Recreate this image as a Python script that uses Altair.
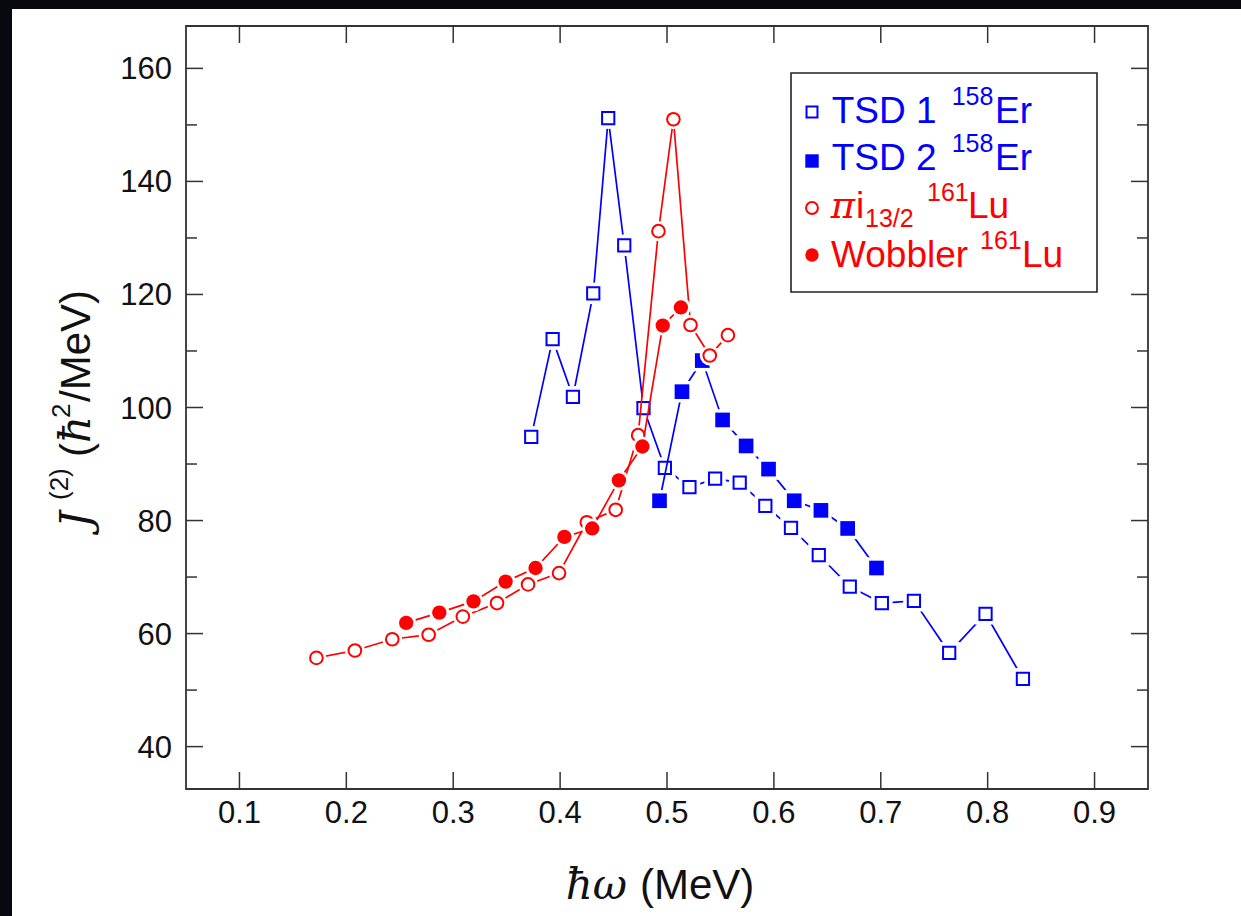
import altair as alt
import pandas as pd

# ---- data: dynamic moment of inertia J(2) vs rotational frequency ----
tsd1_w = [0.373, 0.393, 0.412, 0.431, 0.445, 0.460, 0.478, 0.498, 0.521, 0.545,
          0.568, 0.592, 0.616, 0.642, 0.671, 0.701, 0.731, 0.764, 0.798, 0.833]
tsd1_j = [94.8, 112.1, 101.9, 120.2, 151.2, 128.7, 99.9, 89.3, 85.9, 87.4,
          86.7, 82.6, 78.7, 73.9, 68.3, 65.4, 65.8, 56.6, 63.5, 52.0]

tsd2_w = [0.493, 0.514, 0.533, 0.552, 0.574, 0.595, 0.619, 0.644, 0.669, 0.696]
tsd2_j = [83.5, 102.8, 108.3, 97.8, 93.2, 89.1, 83.5, 81.8, 78.6, 71.6]

pi_w = [0.172, 0.208, 0.243, 0.277, 0.309, 0.341, 0.370, 0.399, 0.425, 0.452,
        0.473, 0.492, 0.506, 0.522, 0.540, 0.557]
pi_j = [55.7, 57.0, 59.0, 59.8, 63.0, 65.4, 68.7, 70.7, 79.7, 81.9,
        95.1, 131.2, 151.0, 114.6, 109.2, 112.8]

wob_w = [0.256, 0.287, 0.319, 0.349, 0.377, 0.404, 0.430, 0.455, 0.477, 0.496, 0.513]
wob_j = [61.9, 63.7, 65.7, 69.2, 71.6, 77.1, 78.6, 87.1, 93.1, 114.5, 117.7]

x_ticks = [0.1, 0.2, 0.3, 0.4, 0.5, 0.6, 0.7, 0.8, 0.9]
x_labels = ["0.1", "0.2", "0.3", "0.4", "0.5", "0.6", "0.7", "0.8", "0.9"]
y_major = [40, 60, 80, 100, 120, 140, 160]
y_labels = ["40", "60", "80", "100", "120", "140", "160"]
y_minor = [50, 70, 90, 110, 130, 150]

# ---- layout ----
W, H = 962, 763
BLUE = "#0000ff"
RED = "#ff0000"
INK = "#333333"
LABEL = "#111111"
SANS = "Liberation Sans"
SERIF = "DejaVu Serif"

xscale = alt.Scale(domain=[0.05, 0.95], nice=False, zero=False)
yscale = alt.Scale(domain=[32.5, 167.5], nice=False, zero=False)
one = pd.DataFrame({"k": [0]})

X = alt.X("w:Q", scale=xscale, axis=None)
Y = alt.Y("j:Q", scale=yscale, axis=None)


def frame(xs, ys):
    return pd.DataFrame({"w": xs, "j": ys, "i": list(range(len(xs)))})


def series(xs, ys, color, shape, filled, size, halo):
    base = alt.Chart(frame(xs, ys))
    line = base.mark_line(color=color, strokeWidth=1.7).encode(X, Y, order="i:Q")
    gap = base.mark_point(shape=shape, filled=True, color="white", size=halo,
                          opacity=1).encode(X, Y)
    if filled:
        pts = base.mark_point(shape=shape, filled=True, color=color, size=size,
                              opacity=1).encode(X, Y)
    else:
        pts = base.mark_point(shape=shape, filled=False, color=color, size=size,
                              strokeWidth=2, opacity=1).encode(X, Y)
    return [line, gap, pts]


def txt(s, x, y, size, color=LABEL, font=SANS, style="normal", angle=0, align="left"):
    return alt.Chart(one).mark_text(
        text=s, font=font, fontSize=size, fontStyle=style, color=color,
        align=align, baseline="alphabetic", angle=angle,
    ).encode(x=alt.value(x), y=alt.value(y))


def sym(x, y, color, shape, filled, size):
    if filled:
        m = alt.Chart(one).mark_point(shape=shape, filled=True, color=color,
                                      size=size, opacity=1)
    else:
        m = alt.Chart(one).mark_point(shape=shape, filled=False, color=color,
                                      size=size, strokeWidth=2, opacity=1)
    return m.encode(x=alt.value(x), y=alt.value(y))


layers = []

# dark border strips along the left and top edges of the page
layers.append(alt.Chart(one).mark_rect(color="#07090f").encode(
    x=alt.value(-186), x2=alt.value(-174), y=alt.value(-26), y2=alt.value(H + 127)))
layers.append(alt.Chart(one).mark_rect(color="#07090f").encode(
    x=alt.value(-186), x2=alt.value(W + 93), y=alt.value(-26), y2=alt.value(-17)))

# inward ticks on all four sides
tx = pd.DataFrame({"w": x_ticks, "lab": x_labels})
ty = pd.DataFrame({"j": y_major, "lab": y_labels})
tym = pd.DataFrame({"j": y_minor})
XT = alt.X("w:Q", scale=xscale, axis=None)
YT = alt.Y("j:Q", scale=yscale, axis=None)

layers.append(alt.Chart(tx).mark_rule(color=INK, strokeWidth=1.5).encode(
    x=XT, y=alt.value(H), y2=alt.value(H - 17)))
layers.append(alt.Chart(tx).mark_rule(color=INK, strokeWidth=1.5).encode(
    x=XT, y=alt.value(0), y2=alt.value(17)))
layers.append(alt.Chart(ty).mark_rule(color=INK, strokeWidth=1.5).encode(
    y=YT, x=alt.value(0), x2=alt.value(17)))
layers.append(alt.Chart(ty).mark_rule(color=INK, strokeWidth=1.5).encode(
    y=YT, x=alt.value(W), x2=alt.value(W - 17)))
layers.append(alt.Chart(tym).mark_rule(color=INK, strokeWidth=1.5).encode(
    y=YT, x=alt.value(0), x2=alt.value(11)))
layers.append(alt.Chart(tym).mark_rule(color=INK, strokeWidth=1.5).encode(
    y=YT, x=alt.value(W), x2=alt.value(W - 11)))

# tick labels
layers.append(alt.Chart(tx).mark_text(font=SANS, fontSize=31, color=LABEL, align="center",
                                      baseline="alphabetic").encode(
    x=XT, y=alt.value(H + 34), text="lab:N"))
layers.append(alt.Chart(ty).mark_text(font=SANS, fontSize=31, color=LABEL, align="right",
                                      baseline="alphabetic", dy=11).encode(
    y=YT, x=alt.value(-14), text="lab:N"))

# data series
layers += series(tsd1_w, tsd1_j, BLUE, "square", False, 150, 460)
layers += series(tsd2_w, tsd2_j, BLUE, "square", True, 215, 460)
layers += series(pi_w, pi_j, RED, "circle", False, 160, 400)
layers += series(wob_w, wob_j, RED, "circle", True, 205, 400)

# plot frame
layers.append(alt.Chart(one).mark_rect(filled=False, stroke=INK, strokeWidth=1.8).encode(
    x=alt.value(0), x2=alt.value(W), y=alt.value(0), y2=alt.value(H)))

# legend box
layers.append(alt.Chart(one).mark_rect(fill="white", stroke="#222222", strokeWidth=1.6).encode(
    x=alt.value(605), x2=alt.value(911), y=alt.value(47), y2=alt.value(266)))
layers.append(sym(626, 86, BLUE, "square", False, 120))
layers.append(sym(626, 135, BLUE, "square", True, 180))
layers.append(sym(626, 182, RED, "circle", False, 140))
layers.append(sym(626, 229, RED, "circle", True, 180))

LF, SF = 37, 25
layers += [
    txt("TSD 1", 645.7, 97, LF, BLUE), txt("158", 765.7, 79, SF, BLUE), txt("Er", 809, 97, LF, BLUE),
    txt("TSD 2", 645.7, 144, LF, BLUE), txt("158", 765.7, 126, SF, BLUE), txt("Er", 809, 144, LF, BLUE),
    txt("\u03c0", 644.7, 192, LF, RED, SERIF, "italic"), txt("i", 670, 192, LF, RED),
    txt("13/2", 679, 201, SF, RED), txt("161", 741, 175, SF, RED), txt("Lu", 782, 192, LF, RED),
    txt("Wobbler", 645, 241, LF, RED), txt("161", 794, 223, SF, RED), txt("Lu", 836, 241, LF, RED),
]

# axis titles
TF = 42
layers += [
    txt("\u0127\u03c9", 441, 873, TF, LABEL, SERIF, "italic", align="right"),
    txt("(MeV)", 454, 873, TF, LABEL),
    txt("J", -96, 502, TF, LABEL, SERIF, "italic", angle=270),
    txt("(2)", -118, 474, 26, LABEL, angle=270),
    txt("(", -96, 431, TF, LABEL, angle=270),
    txt("\u0127", -96, 417, TF, LABEL, SERIF, "italic", angle=270),
    txt("2", -116, 392, 26, LABEL, angle=270),
    txt("/MeV)", -96, 376, TF, LABEL, angle=270),
]

chart = alt.layer(*layers).properties(
    width=W, height=H,
    autosize=alt.AutoSizeParams(type="none"),
    padding={"left": 186, "top": 26, "right": 93, "bottom": 127},
    background="white",
).configure_view(stroke="transparent")

chart.save("out.html", embed_options={"renderer": "svg", "actions": False})
